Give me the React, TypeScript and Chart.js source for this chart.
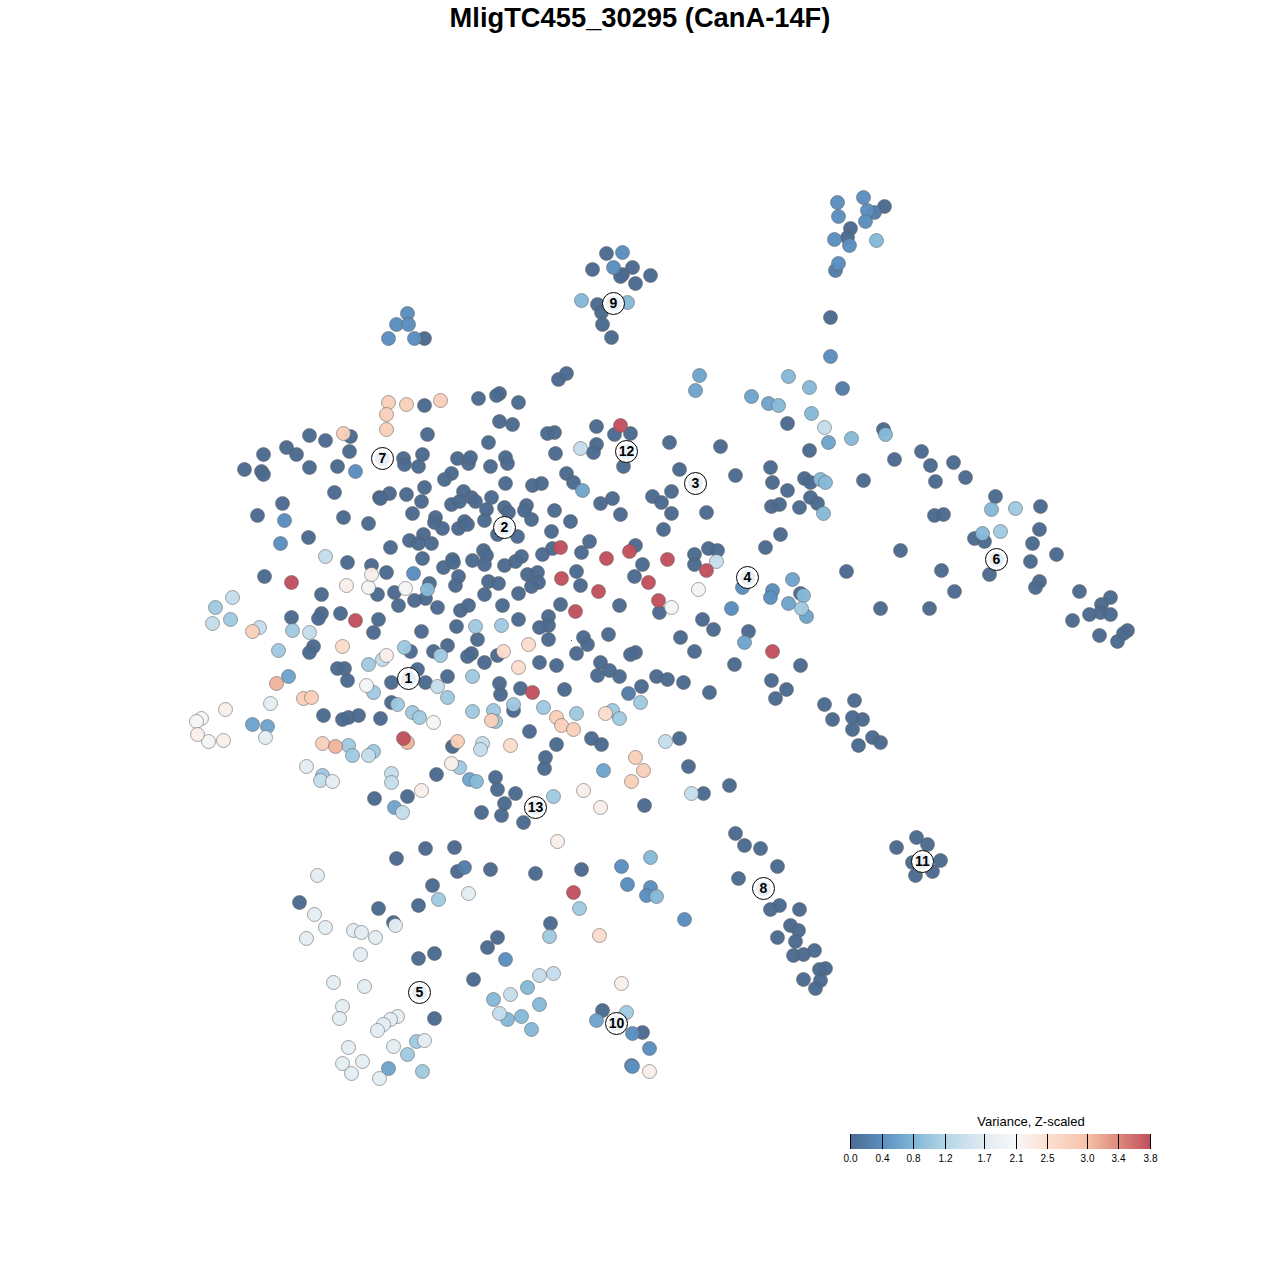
import React, { useEffect, useRef } from "react";
import { Chart, registerables } from "chart.js";

Chart.register(...registerables);

const FONT = '"Liberation Sans", Arial, sans-serif';
const chartTitle = "MligTC455_30295 (CanA-14F)";
const legendTitle = "Variance, Z-scaled";
const legendTicks = ["0.0", "0.4", "0.8", "1.2", "1.7", "2.1", "2.5", "3.0", "3.4", "3.8"];
const legendStops = ["#4b6a90", "#5b8ebf", "#7fb6d6", "#b3d5e6", "#e1ebf2", "#f7f7f7", "#fde0d1", "#f6c2a8", "#dd8a7c", "#c24f5e"];
const legendValues = [0, 0.4, 0.8, 1.2, 1.7, 2.1, 2.5, 3.0, 3.4, 3.8];

// Embedding coordinates, grouped by the level of the scaled variance.
const level00 = [[424,405],[427,434],[350,436],[309,435],[325,440],[286,447],[296,454],[263,454],[349,451],[244,469],[261,471],[263,474],[309,467],[337,466],[403,458],[404,464],[422,454],[418,466],[457,458],[468,463],[470,457],[451,473],[444,479],[334,492],[389,493],[379,497],[380,498],[406,494],[424,487],[421,501],[463,491],[471,497],[475,501],[451,504],[459,501],[282,503],[257,515],[343,517],[368,523],[412,513],[435,517],[434,522],[442,528],[458,528],[464,521],[467,524],[308,537],[423,534],[409,540],[418,543],[431,543],[390,547],[422,558],[452,559],[443,567],[453,562],[472,560],[347,562],[371,565],[386,572],[264,576],[458,576],[455,585],[429,583],[425,598],[321,594],[377,594],[394,592],[414,600],[398,605],[437,607],[460,610],[468,605],[321,613],[318,618],[340,613],[291,617],[378,619],[373,632],[421,631],[456,626],[477,639],[313,646],[309,652],[410,651],[433,651],[447,645],[471,653],[467,656],[337,668],[344,668],[347,680],[391,682],[417,669],[425,682],[447,676],[323,715],[342,719],[348,717],[358,715],[380,718],[391,702],[436,774],[452,746],[374,798],[407,796],[425,848],[454,847],[396,858]];
const level01 = [[558,379],[566,373],[478,398],[499,393],[496,395],[518,402],[499,421],[512,424],[488,442],[505,457],[507,463],[490,466],[505,483],[491,497],[504,507],[486,509],[508,512],[526,505],[524,510],[531,519],[484,520],[554,510],[570,521],[551,531],[497,534],[517,536],[532,485],[541,483],[547,433],[554,432],[555,453],[566,473],[573,482],[596,426],[614,434],[630,433],[596,444],[593,452],[623,466],[669,442],[720,446],[679,469],[735,475],[770,467],[772,482],[771,506],[671,491],[652,496],[661,502],[612,498],[600,503],[620,514],[671,513],[706,512],[663,529],[780,534],[765,547],[635,545],[708,548],[717,550],[694,554],[694,564],[642,564],[634,576],[589,541],[581,552],[552,548],[542,554],[521,556],[515,561],[504,565],[483,550],[486,555],[484,564],[576,571],[580,585],[527,574],[537,572],[538,582],[531,586],[488,581],[498,583],[484,594],[518,593],[502,605],[560,604],[619,605],[659,612],[518,619],[548,616],[548,625],[539,627],[548,639],[583,637],[587,644],[608,634],[576,653],[635,652],[630,654],[680,637],[694,651],[702,619],[713,629],[748,631],[734,664],[771,680],[600,662],[609,670],[597,675],[619,676],[656,676],[667,679],[683,682],[539,662],[556,665],[497,655],[484,662],[499,683],[500,694],[520,688],[564,689],[641,686],[709,692],[513,710],[529,731],[591,738],[601,744],[679,738],[556,744],[545,757],[544,768],[688,766],[729,785],[703,793],[644,805],[495,777],[497,789],[515,793],[504,803],[481,812],[501,815],[523,822],[735,833],[744,845],[760,848]];
const level02 = [[457,871],[490,869],[535,873],[581,869],[432,885],[299,902],[378,908],[418,905],[393,922],[550,923],[497,937],[487,947],[434,953],[418,958],[473,979],[434,1018],[602,1010],[642,1032],[830,317],[787,423],[809,450],[883,429],[894,459],[921,451],[930,465],[953,462],[935,481],[965,477],[863,480],[804,478],[810,482],[787,490],[810,497],[817,503],[799,507],[779,504],[995,496],[1040,506],[934,515],[943,514],[1039,529],[974,538],[984,541],[1032,543],[1056,554],[900,550],[1030,561],[941,570],[846,571],[989,574],[1039,581],[1035,587],[954,591],[880,608],[929,608],[1079,591],[1110,597],[1101,604],[1089,614],[1100,612],[1110,614],[1072,620],[1099,635],[1127,630],[1123,633],[1117,641],[800,665],[786,689],[775,698],[824,704],[854,700],[832,719],[852,717],[862,719],[852,729],[872,737],[880,742],[858,745],[800,593]];
const level03 = [[777,866],[738,878],[779,905],[770,909],[799,909],[790,925],[798,930],[777,937],[795,941],[793,955],[803,954],[814,950],[825,968],[819,969],[820,980],[803,979],[815,988],[916,837],[927,844],[896,847],[912,862],[940,860],[932,871],[915,875],[606,253],[592,269],[632,267],[622,274],[620,276],[650,275],[635,283],[597,304],[601,312],[602,324],[611,337],[424,338],[884,206],[850,228],[847,237]];
const level04 = [[628,693],[842,388],[835,270],[874,212],[464,867]];
const level05 = [[355,471],[284,520],[280,543],[837,202],[838,216],[863,197],[867,210],[865,221],[834,239],[849,245],[838,263],[830,356],[622,252],[613,267],[407,313],[396,324],[408,324],[388,338],[414,338],[742,587],[772,590],[770,597],[731,608],[413,573],[621,866],[627,884],[650,887],[646,895],[632,1033],[649,1048],[631,1065],[632,1066],[505,959],[684,919]];
const level06 = [[288,676],[252,724],[267,726],[469,779],[394,807],[603,770],[744,642],[699,375],[695,390],[751,396],[768,403],[582,490],[792,579],[788,603],[806,616],[828,442],[388,1068],[596,1020]];
const level07 = [[876,240],[581,300],[627,302],[778,405],[788,376],[809,387],[811,413],[851,438],[885,434],[820,479],[825,482],[823,513],[803,595],[476,781],[650,857],[656,896],[427,589],[991,509],[982,533],[527,987],[493,999],[507,1019],[521,1016],[539,1004],[531,1029]];
const level08 = [[215,607],[230,619],[292,630],[278,650],[404,647],[368,664],[472,676],[475,626],[440,655],[501,625],[373,692],[447,697],[397,704],[412,712],[419,717],[472,711],[513,704],[543,707],[493,710],[576,713],[495,721],[612,710],[619,718],[640,702],[348,745],[352,755],[373,751],[322,775],[459,767],[553,796],[579,908],[438,899],[549,936],[416,1041],[407,1054],[422,1071],[626,1012],[801,608],[1015,508],[1000,531]];
const level09 = [[232,597],[212,623],[259,627],[325,556],[309,632],[437,686],[368,755],[482,743],[480,749],[391,773],[391,782],[402,812],[320,780],[665,741],[691,793],[580,448],[716,561],[824,427],[553,973],[539,975],[510,994],[499,1013],[382,659]];
const level10 = [[270,703],[306,766],[332,781],[265,737],[317,875],[468,893],[314,914],[325,927],[306,938],[353,930],[361,932],[375,937],[395,925],[360,954],[333,982],[364,986],[342,1006],[339,1018],[397,1016],[390,1019],[383,1024],[377,1030],[348,1047],[393,1046],[424,1040],[342,1063],[362,1061],[351,1073],[379,1078]];
const level11 = [[368,587],[405,588],[698,589],[671,607],[366,685],[433,722],[201,718],[196,721],[208,741]];
const level12 = [[371,574],[346,585],[386,655],[225,709],[197,734],[223,740],[451,763],[421,790],[583,790],[600,807],[557,841],[621,983],[649,1071]];
const level13 = [[503,651],[528,644],[518,667],[605,713],[342,646],[599,935],[510,745]];
const level14 = [[388,402],[406,404],[440,400],[386,414],[386,429],[343,433],[252,631],[635,757],[643,770],[631,781],[322,743],[457,741],[556,717],[561,725],[573,729],[491,720],[303,698],[311,697]];
const level15 = [[276,683],[335,746],[407,742]];
const level16 = [[620,425],[560,547],[606,558],[629,551],[667,559],[706,570],[561,578],[648,582],[598,591],[575,611],[658,600],[772,651],[355,620],[291,582],[532,692],[403,738],[573,892]];
const tinyPoints = [[571,640]];

const groups: [number, number[][]][] = [
  [0.0, level00], [0.0, level01], [0.0, level02], [0.0, level03], [0.2, level04],
  [0.4, level05], [0.62, level06], [0.85, level07], [1.05, level08], [1.4, level09],
  [1.75, level10], [2.05, level11], [2.25, level12], [2.55, level13], [2.78, level14], [3.1, level15], [3.8, level16],
];

const clusterNames = ["1","2","3","4","5","6","7","8","9","10","11","12","13"];
const clusterCentres = [[408,678],[504,527],[695,483],[747,577],[419,992],[996,559],[382,458],[763,888],[613,303],[616,1023],[922,861],[626,451],[535,807]];

function hexToRgb(h: string) {
  return [1, 3, 5].map((i) => parseInt(h.slice(i, i + 2), 16));
}
function colorFor(v: number, alpha: number) {
  let i = 0;
  while (i < legendValues.length - 2 && v > legendValues[i + 1]) i++;
  const t = (v - legendValues[i]) / (legendValues[i + 1] - legendValues[i]);
  const a = hexToRgb(legendStops[i]);
  const b = hexToRgb(legendStops[i + 1]);
  const c = a.map((x, k) => Math.round(x + (b[k] - x) * t));
  return `rgba(${c[0]},${c[1]},${c[2]},${alpha})`;
}

const backgroundPlugin = {
  id: "whiteBackground",
  beforeDraw(chart: any) {
    const ctx = chart.ctx;
    ctx.save();
    ctx.fillStyle = "#ffffff";
    ctx.fillRect(0, 0, chart.width, chart.height);
    ctx.restore();
  },
};

const legendPlugin = {
  id: "varianceLegend",
  afterDraw(chart: any) {
    const ctx = chart.ctx;
    const xs = [850, 882, 913, 945, 984, 1016, 1047, 1087, 1118, 1150];
    const top = 1134, h = 15;
    ctx.save();
    for (let i = 0; i < xs.length - 1; i++) {
      const g = ctx.createLinearGradient(xs[i], 0, xs[i + 1], 0);
      g.addColorStop(0, legendStops[i]);
      g.addColorStop(1, legendStops[i + 1]);
      ctx.fillStyle = g;
      ctx.fillRect(xs[i], top, xs[i + 1] - xs[i] + 1, h);
    }
    ctx.fillStyle = "#000";
    xs.forEach((x) => {
      ctx.fillRect(x, top, 1, h);
    });
    ctx.textAlign = "center";
    ctx.textBaseline = "middle";
    ctx.font = `10px ${FONT}`;
    xs.forEach((x, i) => ctx.fillText(legendTicks[i], x + 0.5, 1159.5));
    ctx.font = `13px ${FONT}`;
    ctx.fillText(legendTitle, 1031, 1122.5);
    ctx.restore();
  },
};

const clusterTextPlugin = {
  id: "clusterText",
  afterDatasetsDraw(chart: any) {
    const ctx = chart.ctx;
    const sx = chart.scales.x, sy = chart.scales.y;
    ctx.save();
    ctx.fillStyle = "#000";
    ctx.font = `bold 14px ${FONT}`;
    ctx.textAlign = "center";
    ctx.textBaseline = "middle";
    clusterNames.forEach((n, i) => {
      ctx.fillText(n, sx.getPixelForValue(clusterCentres[i][0]), sy.getPixelForValue(clusterCentres[i][1]) + 0.5);
    });
    ctx.restore();
  },
};

export default function App() {
  const ref = useRef<HTMLCanvasElement>(null);
  useEffect(() => {
    document.body.style.margin = "0";
    const canvas = ref.current!;
    canvas.getContext("2d", { alpha: false });
    const toPts = (a: number[][]) => a.map(([x, y]) => ({ x, y }));
    const datasets: any[] = groups.map(([v, pts], i) => ({
      label: `variance ${v}`,
      data: toPts(pts),
      order: 100 - i,
      pointRadius: 7,
      pointHoverRadius: 7,
      pointBackgroundColor: colorFor(v, 0.97),
      pointBorderColor: "rgba(95,95,95,0.55)",
      pointBorderWidth: 1,
    }));
    datasets.push({
      label: "tiny",
      data: toPts(tinyPoints),
      order: 60,
      pointRadius: 0.6,
      pointBackgroundColor: "#2a3a5a",
      pointBorderWidth: 0,
    });
    datasets.push({
      label: "clusters",
      data: toPts(clusterCentres),
      order: 1,
      pointRadius: 11,
      pointBackgroundColor: "#ffffff",
      pointBorderColor: "#000000",
      pointBorderWidth: 1,
    });
    datasets.push({
      label: "cluster halo",
      data: toPts(clusterCentres),
      order: 0,
      pointRadius: 7.5,
      pointBackgroundColor: "#e8eff5",
      pointBorderWidth: 0,
    });
    const chart = new Chart(canvas, {
      type: "scatter",
      data: { datasets },
      plugins: [backgroundPlugin, legendPlugin, clusterTextPlugin],
      options: {
        animation: false,
        responsive: false,
        layout: { padding: 0, autoPadding: false },
        scales: {
          x: { type: "linear", display: false, min: -0.5, max: 1279.5 },
          y: { type: "linear", display: false, min: 39.5, max: 1279.5, reverse: true },
        },
        plugins: {
          legend: { display: false },
          tooltip: { enabled: false },
          title: {
            display: true,
            text: chartTitle,
            color: "#000",
            font: { family: FONT, size: 27.3, weight: "bold", lineHeight: 1 },
            padding: { top: 6, bottom: 6.7 },
          },
        },
      },
    } as any);
    return () => chart.destroy();
  }, []);
  return <canvas ref={ref} width={1280} height={1280} style={{ display: "block" }} />;
}
